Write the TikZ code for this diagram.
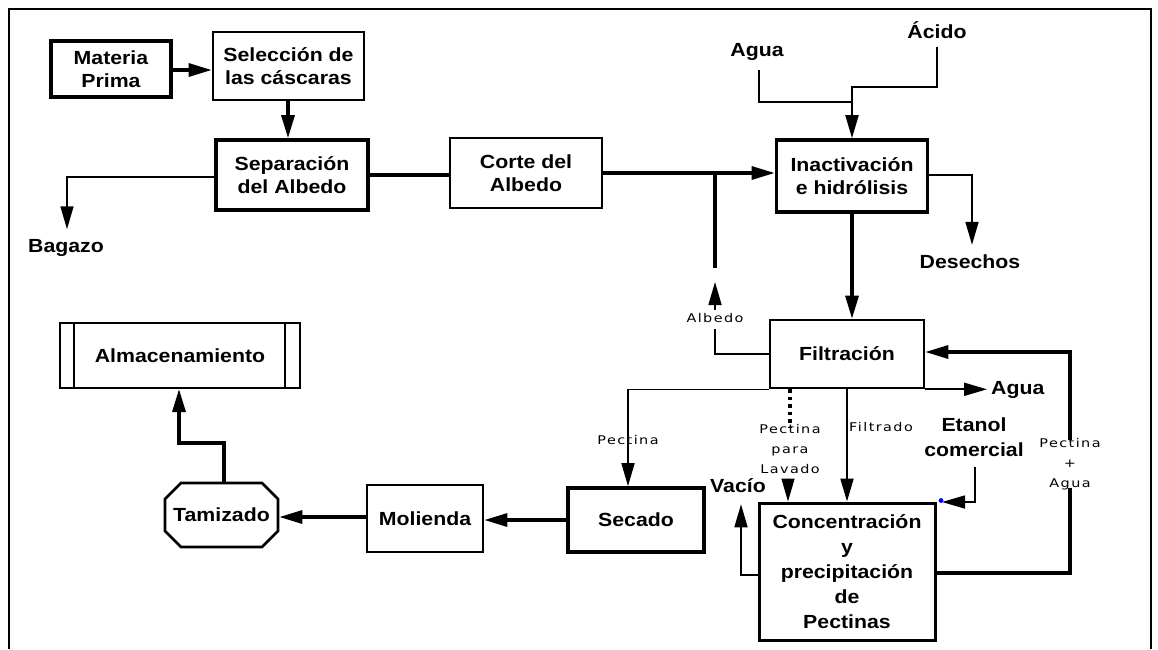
\documentclass[tikz,border=0pt]{standalone}
\usepackage{fontspec}
\setmainfont{Liberation Sans}[FakeStretch=1.12]
\newfontfamily\lblfont{DejaVu Sans}[FakeStretch=1.2,LetterSpace=12]
\usetikzlibrary{arrows.meta,shapes.misc}
\begin{document}
\begin{tikzpicture}[x=1pt,y=-1pt,
  boxtxt/.style={font=\bfseries\fontsize{19}{23}\selectfont, align=center, inner sep=0pt},
  procbox/.style={boxtxt, draw, rectangle, line width=2.6pt},
  heavybox/.style={procbox, line width=3.6pt},
  note/.style={font=\lblfont\fontsize{12}{20}\selectfont, align=center, inner sep=0pt},
  tag/.style={font=\bfseries\fontsize{19}{25}\selectfont, align=center, inner sep=0pt},
  main/.style={line width=3.2pt},
  side/.style={line width=1.6pt},
  tip/.style={-{Triangle[length=23pt,width=13pt]}},
]
\useasboundingbox (0,0) rectangle (1158,649);

% open frame
\draw[line width=1.8pt] (9,649) -- (9,9) -- (1151,9) -- (1151,649);

% process boxes
\node[heavybox, minimum width=120, minimum height=56] (mp) at (111,69) {Materia\\Prima};
\node[procbox, minimum width=151, minimum height=68] (sel) at (288.5,66) {Selección de\\las cáscaras};
\node[heavybox, minimum width=152, minimum height=70] (sep) at (292,175) {Separación\\del Albedo};
\node[procbox, minimum width=152, minimum height=70] (corte) at (526,173) {Corte del\\Albedo};
\node[heavybox, minimum width=151, minimum height=72] (inact) at (852,176) {Inactivación\\e hidrólisis};
\node[procbox, minimum width=154, minimum height=68] (filt) at (847,354) {Filtración};
\node[heavybox, minimum width=136, minimum height=64] (sec) at (636,520) {Secado};
\node[procbox, line width=3pt, minimum width=176, minimum height=137,
      font=\bfseries\fontsize{19}{25}\selectfont] (conc) at (847,571.5)
      {Concentración\\y\\precipitación\\de\\Pectinas};
\node[procbox, minimum width=116, minimum height=67] (mol) at (425,518.5) {Molienda};
\node[procbox, chamfered rectangle, chamfered rectangle xsep=9pt, chamfered rectangle ysep=9pt,
      minimum width=113, minimum height=64] (tam) at (221.5,515) {Tamizado};
\node[procbox, line width=2pt, minimum width=240, minimum height=65] (alm) at (180,355.5) {Almacenamiento};
\draw[line width=2pt] ([xshift=15pt]alm.north west) -- ([xshift=15pt]alm.south west);
\draw[line width=2pt] ([xshift=-16pt]alm.north east) -- ([xshift=-16pt]alm.south east);

% stream labels
\node[tag] (bagazo) at (66,248) {Bagazo};
\node[tag] (aguain) at (757,52) {Agua};
\node[tag] (acido) at (937,30) {Ácido};
\node[tag] (desechos) at (970,262) {Desechos};
\node[tag, anchor=west] (aguaout) at (991,390) {Agua};
\node[tag] (etanol) at (974,437) {Etanol\\comercial};
\node[tag] (vacio) at (738,486) {Vacío};
\node[note] (albedo) at (715,318) {Albedo};
\node[note] (pectina) at (628,440) {Pectina};
\node[note] (lavado) at (790,449) {Pectina\\para\\Lavado};
\node[note, anchor=west] (filtrado) at (849,427) {Filtrado};
\node[note] (retorno) at (1070,464) {Pectina\\+\\Agua};

% junction and bend points
\coordinate (cut) at (715,173);
\coordinate (cutend) at (715,268);
\coordinate (albtip) at (715,282);
\coordinate (acbend) at (937,87);
\coordinate (agbend) at (759,102);
\coordinate (agjoin) at (852,102);
\coordinate (etbend) at (975,502);
\coordinate (ettip) at (942,502);
\coordinate (rtbot) at (1070,573);
\coordinate (rttop) at (1070,352);
\coordinate (vacbend) at (741,575);
\coordinate (almbend) at (224,443);

% main line
\draw[main, tip] (mp.east |- 0,70) -- (sel.west |- 0,70);
\draw[main, tip] (sel.south -| 288,0) -- (sep.north -| 288,0);
\draw[main] (sep.east |- 0,175) -- (corte.west |- 0,175);
\draw[main, tip] (corte.east) -- (inact.west |- corte.east);
\draw[main] (cut) -- (cutend);
\draw[main, tip] (inact.south) -- (inact.south |- filt.north);
\draw[main, tip] (sec.west) -- (mol.east |- sec.west);
\draw[main, tip] (mol.west |- 0,517) -- (tam.east |- 0,517);
\draw[main, tip] (tam.north -| almbend) -- (almbend) -| (alm.south -| 179,0);
\draw[main] (conc.east |- rtbot) -- (rtbot) -- ([yshift=2pt]retorno.south);
\draw[main, tip] ([yshift=-2pt]retorno.north) -- (rttop) -- (filt.east |- rttop);

% side streams
\draw[side, tip] (sep.west |- 0,177) -| ([yshift=10pt]bagazo.north -| 67,0);
\draw[side] ([yshift=-9pt]aguain.south -| agbend) -- (agbend) -- (agjoin);
\draw[line width=2pt, tip] ([yshift=-8pt]acido.south) -- (acbend) -| (inact.north);
\draw[side, tip] (inact.east |- 0,175) -| ([yshift=10pt]desechos.north -| 972,0);
\draw[side] (filt.west) -| ([yshift=-6pt]albedo.south);
\draw[side, tip] ([yshift=3pt]albedo.north) -- (albtip);
\draw[side] (filt.south west) -| ([yshift=-6pt]pectina.south);
\draw[side, tip] ([yshift=5pt]pectina.south) -- (pectina.south |- sec.north);
\draw[line width=3.5pt, dash pattern=on 3.5pt off 4pt] (lavado.north |- filt.south) -- ([yshift=-4pt]lavado.north);
\draw[side, tip] ([xshift=-2pt,yshift=-5pt]lavado.south) -- ([xshift=-2pt]lavado.south |- conc.north);
\draw[line width=2pt, tip] (filt.south) -- (filt.south |- conc.north);
\draw[line width=2pt, tip] (filt.south east) -- ([xshift=-4pt]aguaout.west |- filt.south east);
\draw[side, tip] ([yshift=-10pt]etanol.south -| etbend) -- (etbend) -- (ettip);
\fill[blue] (941,500.5) circle (2.4pt);
\draw[side, tip] (conc.west |- vacbend) -- (vacbend) -- ([yshift=-11pt]vacio.south -| vacbend);
\end{tikzpicture}
\end{document}
